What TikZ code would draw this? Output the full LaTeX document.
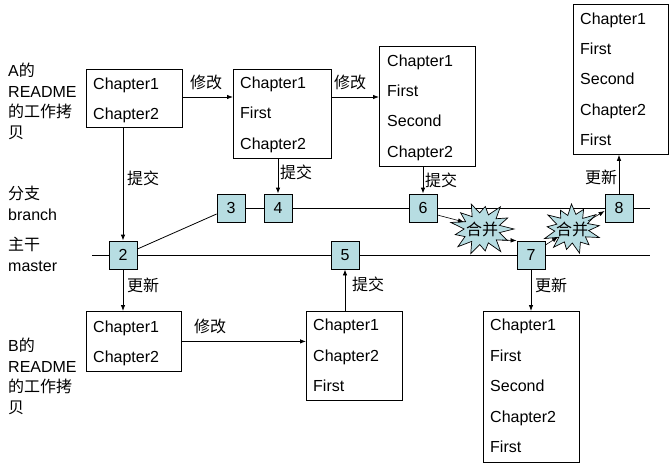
\documentclass[tikz,border=0pt]{standalone}
\usepackage{fontspec}
\setmainfont{Liberation Sans}
\newfontfamily\cjk{Noto Sans CJK SC}
\usetikzlibrary{arrows.meta}
\definecolor{numblue}{RGB}{183,221,226}
\begin{document}
\begin{tikzpicture}[x=1pt,y=-1pt,
  every node/.style={inner sep=0pt},
  box/.style={draw, line width=0.8pt, anchor=north west},
  txt/.style={anchor=base west, font=\fontsize{16}{19}\selectfont},
  num/.style={draw, line width=0.8pt, fill=numblue, minimum size=28pt, font=\fontsize{16}{19}\selectfont},
  lbl/.style={font=\cjk\fontsize{16}{19}\selectfont},
  side/.style={anchor=north west, align=left, font=\fontsize{16}{20.5}\selectfont},
  arr/.style={line width=0.8pt, -{Latex[length=6pt,width=4.5pt]}},
  ln/.style={line width=0.8pt},
  burstst/.style={draw, line width=0.7pt, fill=numblue, line join=miter},
  bursttxt/.style={font=\cjk\fontsize{16}{19}\selectfont}
]
\useasboundingbox (0,0) rectangle (672,474);
\fill[white] (0,0) rectangle (672,474);

% side labels
\node[side] (la) at (8,63) {A{\cjk 的}\\README\\{\cjk 的工作拷}\\{\cjk 贝}};
\node[side] (lbr) at (8,186) {{\cjk 分支}\\branch};
\node[side] (lma) at (8,237) {{\cjk 主干}\\master};
\node[side] (lb) at (8,338) {B{\cjk 的}\\README\\{\cjk 的工作拷}\\{\cjk 贝}};

% boxes
\node[box, minimum width=96pt, minimum height=58pt] (a1) at (86,69) {};
\node[txt] (a1t1) at (93,89) {Chapter1};
\node[txt] (a1t2) at (93,119) {Chapter2};

\node[box, minimum width=98pt, minimum height=89pt] (a2) at (233,69) {};
\node[txt] (a2t1) at (240,88) {Chapter1};
\node[txt] (a2t2) at (240,118) {First};
\node[txt] (a2t3) at (240,149) {Chapter2};

\node[box, minimum width=96pt, minimum height=120pt] (a3) at (379,46) {};
\node[txt] (a3t1) at (387,66) {Chapter1};
\node[txt] (a3t2) at (387,96) {First};
\node[txt] (a3t3) at (387,126) {Second};
\node[txt] (a3t4) at (387,157) {Chapter2};

\node[box, minimum width=95pt, minimum height=150pt] (a4) at (573,4) {};
\node[txt] (a4t1) at (580,24) {Chapter1};
\node[txt] (a4t2) at (580,54) {First};
\node[txt] (a4t3) at (580,84) {Second};
\node[txt] (a4t4) at (580,115) {Chapter2};
\node[txt] (a4t5) at (580,145) {First};

\node[box, minimum width=95pt, minimum height=60pt] (b1) at (86,311) {};
\node[txt] (b1t1) at (93,332) {Chapter1};
\node[txt] (b1t2) at (93,362) {Chapter2};

\node[box, minimum width=96pt, minimum height=89pt] (b2) at (306,311) {};
\node[txt] (b2t1) at (313,330) {Chapter1};
\node[txt] (b2t2) at (313,361) {Chapter2};
\node[txt] (b2t3) at (313,391) {First};

\node[box, minimum width=96pt, minimum height=151pt] (b3) at (483,311) {};
\node[txt] (b3t1) at (490,330) {Chapter1};
\node[txt] (b3t2) at (490,361) {First};
\node[txt] (b3t3) at (490,391) {Second};
\node[txt] (b3t4) at (490,422) {Chapter2};
\node[txt] (b3t5) at (490,452) {First};

% line ends
\coordinate (mL) at (92,255);
\coordinate (mR) at (650,255);
\coordinate (bR) at (650,208);

% master and branch lines (drawn under the boxes)
\draw[ln] (mL) -- (mR);
\draw[ln] (231,208) -- (bR);

% numbered commits
\node[num] (n2) at (123,255) {2};
\node[num] (n3) at (231,208) {3};
\node[num] (n4) at (278,208) {4};
\node[num] (n5) at (345,255) {5};
\node[num] (n6) at (423,208) {6};
\node[num] (n7) at (531,255) {7};
\node[num] (n8) at (619,208) {8};

\draw[ln] ([yshift=6pt]n2.east) -- ([yshift=-6pt]n3.west);

% bursts
\coordinate (s1c) at (482,229);
\coordinate (s2c) at (572,229);
\filldraw[burstst, shift={(s1c)}, xscale=32, yscale=27] (0:1)
  \foreach \a/\s in {14/0.56, 28/0.9, 42/0.6, 55/1.02, 69/0.55, 83/0.82, 97/0.58, 111/0.98, 125/0.56, 139/1.0, 152/0.6, 166/0.86, 180/0.56, 194/1.0, 208/0.58, 222/0.9, 236/0.55, 250/0.98, 263/0.6, 277/0.84, 291/0.56, 305/1.0, 319/0.58, 333/0.9, 346/0.56} { -- (\a:\s) } -- cycle;
\filldraw[burstst, shift={(s2c)}, xscale=29, yscale=25, rotate=8] (0:0.95)
  \foreach \a/\s in {14/0.58, 28/1.0, 42/0.56, 55/0.86, 69/0.6, 83/1.0, 97/0.56, 111/0.84, 125/0.58, 139/0.97, 152/0.56, 166/1.02, 180/0.6, 194/0.86, 208/0.56, 222/1.0, 236/0.58, 250/0.85, 263/0.56, 277/1.0, 291/0.6, 305/0.88, 319/0.56, 333/1.0, 346/0.58} { -- (\a:\s) } -- cycle;
\node[bursttxt] (s1) at (s1c) {合并};
\node[bursttxt] (s2) at (s2c) {合并};

% edits
\draw[arr] (a1.east |- 0,97) -- (a2.west |- 0,97);
\node[lbl] (e1) at (206,82) {修改};
\draw[arr] (a2.east |- 0,97) -- (a3.west |- 0,97);
\node[lbl] (e2) at (350,82) {修改};
\draw[arr] (b1.east) -- (b1.east -| b2.west);
\node[lbl] (e3) at (210,326) {修改};

% commits / updates
\draw[arr] (n2.north |- a1.south) -- (n2.north);
\node[lbl] (c1) at (143,178) {提交};
\draw[arr] (n4.north |- a2.south) -- (n4.north);
\node[lbl] (c2) at (296,172) {提交};
\draw[arr] (n6.north |- a3.south) -- (n6.north);
\node[lbl] (c3) at (441,180) {提交};
\draw[arr] (n5.south |- b2.north) -- (n5.south);
\node[lbl] (c4) at (368,284) {提交};
\draw[arr] (n8.north) -- (n8.north |- a4.south);
\node[lbl] (u1) at (601,177) {更新};
\draw[arr] (n2.south) -- (n2.south |- b1.north);
\node[lbl] (u2) at (143,285) {更新};
\draw[arr] (n7.south) -- (n7.south |- b3.north);
\node[lbl] (u3) at (551,285) {更新};

% merges
\draw[arr, line width=0.6pt] ([yshift=-7pt]n6.east) -- (464,222);
\draw[arr, line width=0.6pt] (502,240) -- (n7.north west);
\draw[arr, line width=0.6pt] ([yshift=10pt]n7.east) -- (558,237);
\draw[arr, line width=0.6pt] (588,221) -- ([yshift=-3pt]n8.west);
\end{tikzpicture}
\end{document}
